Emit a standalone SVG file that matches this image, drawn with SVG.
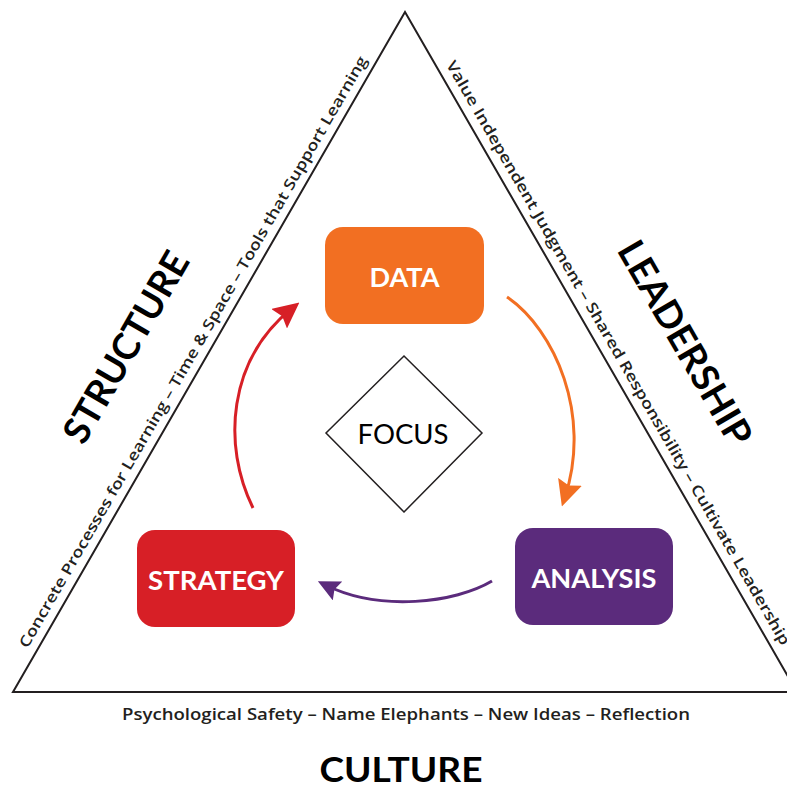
<svg xmlns="http://www.w3.org/2000/svg" width="787" height="790" viewBox="0 0 787 790">
<style>
.side{font-family:"Open Sans","Liberation Sans",sans-serif;font-weight:600;font-size:15px;fill:#231f20}
.head{font-family:Lato,"Liberation Sans",sans-serif;font-weight:700;font-size:37px;fill:#000}
.box{font-family:Lato,"Liberation Sans",sans-serif;font-weight:700;font-size:26px;fill:#fff;text-anchor:middle}
.conn{fill:none;stroke-width:3}
</style>
<defs>
<marker id="ahO" markerUnits="userSpaceOnUse" viewBox="0 0 26 25" refX="16" refY="12.5" markerWidth="26" markerHeight="25" orient="auto"><path d="M0,0 L26,12.5 L0,25 L4,12.5 z" fill="#f26f22"/></marker>
<marker id="ahR" markerUnits="userSpaceOnUse" viewBox="0 0 26 25" refX="16" refY="12.5" markerWidth="26" markerHeight="25" orient="auto"><path d="M0,0 L26,12.5 L0,25 L4,12.5 z" fill="#d71f26"/></marker>
<marker id="ahP" markerUnits="userSpaceOnUse" viewBox="0 0 26 25" refX="16" refY="12.5" markerWidth="22" markerHeight="21" orient="auto"><path d="M0,0 L26,12.5 L0,25 L4,12.5 z" fill="#5b2b7c"/></marker>
</defs>
<rect width="787" height="790" fill="#fff"/>
<g id="triangle">
<polygon points="405,12 13,692 797,692" fill="none" stroke="#231f20" stroke-width="2"/>
</g>
<g id="structure-side">
<text class="head" transform="translate(126,347) rotate(-60)" x="0" y="13" text-anchor="middle" textLength="214" lengthAdjust="spacingAndGlyphs">STRUCTURE</text>
<text class="side" transform="translate(205.3,359) rotate(-60)" x="0" y="-9" text-anchor="middle" textLength="680" lengthAdjust="spacingAndGlyphs">Concrete Processes for Learning – Time &amp; Space – Tools that Support Learning</text>
</g>
<g id="leadership-side">
<text class="head" transform="translate(685,343) rotate(60)" x="0" y="13" text-anchor="middle" textLength="230" lengthAdjust="spacingAndGlyphs">LEADERSHIP</text>
<text class="side" transform="translate(606,360) rotate(60)" x="0" y="-9" text-anchor="middle" textLength="672" lengthAdjust="spacingAndGlyphs">Value Independent Judgment – Shared Responsibility – Cultivate Leadership</text>
</g>
<g id="culture-side">
<text class="side" x="406" y="720" text-anchor="middle" textLength="568" lengthAdjust="spacingAndGlyphs" style="font-size:16px">Psychological Safety – Name Elephants – New Ideas – Reflection</text>
<text class="head" x="401" y="782" text-anchor="middle" textLength="163" lengthAdjust="spacingAndGlyphs" style="font-size:35px">CULTURE</text>
</g>
<g id="connectors">
<path class="conn" stroke="#f26f22" d="M507,297 C555,330 592,415 565,497" marker-end="url(#ahO)"/>
<path class="conn" stroke="#5b2b7c" d="M492,581 C455,603 380,612 325.4,585" marker-end="url(#ahP)"/>
<path class="conn" stroke="#d71f26" d="M253,508 C222,445 228,360 291.6,308.7" marker-end="url(#ahR)"/>
</g>
<g id="data">
<rect x="325" y="227" width="159" height="97" rx="18" fill="#f26f22"/>
<text class="box" x="404.5" y="287" textLength="70" lengthAdjust="spacingAndGlyphs">DATA</text>
</g>
<g id="analysis">
<rect x="515" y="528" width="158" height="97" rx="18" fill="#5b2b7c"/>
<text class="box" x="594" y="588" textLength="125" lengthAdjust="spacingAndGlyphs">ANALYSIS</text>
</g>
<g id="strategy">
<rect x="137" y="530" width="158" height="97" rx="18" fill="#d71f26"/>
<text class="box" x="216" y="590" textLength="136" lengthAdjust="spacingAndGlyphs">STRATEGY</text>
</g>
<g id="focus">
<polygon points="404,356 482,433 404,512 326,433" fill="#fff" stroke="#231f20" stroke-width="1.5"/>
<text x="403" y="444" text-anchor="middle" font-family="Lato,'Liberation Sans',sans-serif" font-size="26" fill="#000" textLength="91" lengthAdjust="spacingAndGlyphs">FOCUS</text>
</g>
</svg>
